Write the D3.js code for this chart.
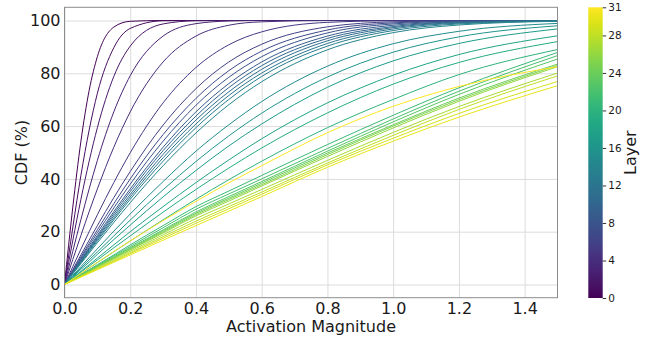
<!DOCTYPE html>
<html><head><meta charset="utf-8">
<script src="https://cdn.jsdelivr.net/npm/d3@7"></script>
<style>body{margin:0;background:#fff;} svg{display:block;font-family:"DejaVu Sans",sans-serif;}</style>
</head><body><svg id="c" width="648" height="339"></svg>
<script>
// ---- data ----
const xGrid = [0, 0.025, 0.05, 0.075, 0.1, 0.15, 0.2, 0.3, 0.4, 0.5, 0.6, 0.8, 1.0, 1.2, 1.5];
const layers = [0,1,2,3,4,5,6,7,8,9,10,11,12,13,14,15,16,17,18,19,20,21,22,23,24,25,26,27,28,29,30,31];
const xTicks = [0.0, 0.2, 0.4, 0.6, 0.8, 1.0, 1.2, 1.4];
const yTicks = [0, 20, 40, 60, 80, 100];
const cbTicks = [0, 4, 8, 12, 16, 20, 24, 28, 31];

const cdf_L0  = [0, 29.0, 54.3, 73.5, 86.3, 97.5, 99.7, 100, 100, 100, 100, 100, 100, 100, 100];
const cdf_L1  = [0, 21.4, 41.4, 58.5, 72.4, 89.7, 97.0, 99.9, 100, 100, 100, 100, 100, 100, 100];
const cdf_L2  = [0, 16.5, 32.3, 46.7, 59.4, 78.8, 90.3, 98.7, 99.9, 100, 100, 100, 100, 100, 100];
const cdf_L3  = [0, 12.5, 24.6, 36.2, 47.0, 65.4, 79.1, 94.1, 98.8, 99.8, 100, 100, 100, 100, 100];
const cdf_L4  = [0, 9.4, 18.6, 27.6, 36.2, 52.0, 65.4, 84.3, 94.1, 98.2, 99.5, 100, 100, 100, 100];
const cdf_L5  = [0, 6.7, 13.4, 20.0, 26.4, 38.6, 49.9, 68.8, 82.2, 90.8, 95.7, 99.3, 99.9, 100, 100];
const cdf_L6  = [0, 5.6, 11.2, 16.8, 22.3, 32.9, 42.8, 60.4, 74.2, 84.3, 91.0, 97.6, 99.5, 99.9, 100];
const cdf_L7  = [0, 5.2, 10.4, 15.6, 20.7, 30.6, 40.0, 56.8, 70.5, 81.0, 88.4, 96.4, 99.1, 99.8, 100];
const cdf_L8  = [0, 4.9, 9.9, 14.8, 19.6, 29.0, 38.0, 54.3, 67.9, 78.5, 86.3, 95.3, 98.7, 99.7, 100];
const cdf_L9  = [0, 4.7, 9.4, 14.0, 18.6, 27.6, 36.2, 52.0, 65.4, 76.1, 84.3, 94.1, 98.2, 99.5, 100];
const cdf_L10 = [0, 4.5, 9.1, 13.6, 18.0, 26.8, 35.2, 50.7, 63.8, 74.6, 82.9, 93.2, 97.7, 99.4, 99.9];
const cdf_L11 = [0, 4.4, 8.8, 13.2, 17.5, 26.0, 34.1, 49.3, 62.3, 73.0, 81.5, 92.3, 97.3, 99.2, 99.9];
const cdf_L12 = [0, 4.3, 8.5, 12.8, 17.0, 25.2, 33.2, 48.0, 60.8, 71.6, 80.1, 91.3, 96.8, 99.0, 99.8];
const cdf_L13 = [0, 4.1, 8.3, 12.4, 16.5, 24.5, 32.3, 46.7, 59.4, 70.1, 78.8, 90.3, 96.2, 98.7, 99.8];
const cdf_L14 = [0, 4.0, 7.9, 11.9, 15.8, 23.5, 31.0, 45.0, 57.4, 68.1, 76.8, 88.9, 95.4, 98.3, 99.7];
const cdf_L15 = [0, 3.4, 6.8, 10.2, 13.5, 20.2, 26.7, 39.0, 50.5, 60.5, 69.3, 82.7, 91.2, 95.9, 98.9];
const cdf_L16 = [0, 3.1, 6.2, 9.3, 12.3, 18.4, 24.4, 35.9, 46.6, 56.3, 64.9, 78.6, 88.0, 93.8, 98.0];
const cdf_L17 = [0, 2.8, 5.7, 8.5, 11.4, 17.0, 22.5, 33.2, 43.2, 52.5, 60.8, 74.7, 84.7, 91.3, 96.8];
const cdf_L18 = [0, 2.5, 5.0, 7.5, 10.0, 15.0, 20.0, 29.5, 38.6, 47.2, 55.2, 68.8, 79.3, 87.1, 94.2];
const cdf_L19 = [0, 2.3, 4.7, 7.0, 9.3, 13.9, 18.4, 27.4, 36.0, 44.1, 51.7, 65.0, 75.9, 84.1, 92.0];
const cdf_L20 = [0, 2.1, 4.1, 6.2, 8.3, 12.4, 16.5, 24.5, 32.3, 39.7, 46.7, 59.4, 70.1, 79.5, 89.0];
const cdf_L21 = [0, 1.9, 3.8, 5.6, 7.5, 11.2, 15.0, 22.3, 29.5, 35.4, 41.3, 53.0, 64.1, 74.5, 87.9];
const cdf_L22 = [0, 1.8, 3.6, 5.4, 7.2, 10.8, 14.4, 21.5, 28.5, 34.3, 40.0, 51.5, 62.7, 73.2, 86.7];
const cdf_L23 = [0, 1.7, 3.5, 5.2, 7.0, 10.4, 13.9, 20.7, 27.5, 33.3, 39.0, 50.5, 61.6, 72.0, 85.4];
const cdf_L24 = [0, 1.7, 3.4, 5.1, 6.8, 10.2, 13.6, 20.3, 27.0, 32.7, 38.4, 49.8, 60.5, 70.6, 83.5];
const cdf_L25 = [0, 1.7, 3.4, 5.0, 6.7, 10.0, 13.3, 19.9, 26.5, 32.2, 37.8, 49.2, 60.0, 70.0, 83.0];
const cdf_L26 = [0, 1.6, 3.3, 4.9, 6.6, 9.8, 13.1, 19.5, 26.0, 31.6, 37.3, 48.5, 59.3, 69.4, 82.5];
const cdf_L27 = [0, 1.6, 3.2, 4.7, 6.3, 9.4, 12.6, 18.8, 25.0, 30.5, 36.0, 47.0, 57.6, 67.4, 80.1];
const cdf_L28 = [0, 1.5, 3.0, 4.5, 6.0, 9.0, 12.1, 18.1, 24.0, 29.5, 35.0, 46.0, 56.5, 66.3, 79.0];
const cdf_L29 = [0, 1.5, 2.9, 4.4, 5.8, 8.7, 11.7, 17.5, 23.2, 28.7, 34.2, 45.3, 55.4, 64.8, 76.9];
const cdf_L30 = [0, 1.4, 2.8, 4.2, 5.6, 8.4, 11.2, 16.8, 22.3, 27.8, 33.3, 44.4, 54.3, 63.4, 75.3];
const cdf_L31 = [0, 2.1, 4.2, 6.3, 8.4, 12.5, 16.5, 24.2, 31.5, 38.5, 45.0, 57.5, 67.5, 75.0, 82.5];

const series = [cdf_L0,cdf_L1,cdf_L2,cdf_L3,cdf_L4,cdf_L5,cdf_L6,cdf_L7,cdf_L8,cdf_L9,cdf_L10,
  cdf_L11,cdf_L12,cdf_L13,cdf_L14,cdf_L15,cdf_L16,cdf_L17,cdf_L18,cdf_L19,cdf_L20,
  cdf_L21,cdf_L22,cdf_L23,cdf_L24,cdf_L25,cdf_L26,cdf_L27,cdf_L28,cdf_L29,cdf_L30,cdf_L31];

// ---- layout ----
const L = 64.5, R = 557.5, T = 7.3, B = 297.7;
const x = d3.scaleLinear().domain([0, 1.5]).range([L, R]);
const y = d3.scaleLinear().domain([-5, 105]).range([B, T]);
const color = v => d3.interpolateViridis(v / 31);

const svg = d3.select('#c');

// grid via axes
svg.append('g').attr('transform', `translate(0,${B})`)
  .call(d3.axisBottom(x).tickValues(xTicks).tickSize(-(B - T)).tickFormat(''))
  .call(g => { g.select('.domain').remove(); g.selectAll('line').attr('stroke', '#dcdcdc').attr('stroke-width', 1); });
svg.append('g').attr('transform', `translate(${L},0)`)
  .call(d3.axisLeft(y).tickValues(yTicks).tickSize(-(R - L)).tickFormat(''))
  .call(g => { g.select('.domain').remove(); g.selectAll('line').attr('stroke', '#dcdcdc').attr('stroke-width', 1); });

// lines
const line = d3.line().x((d, i) => x(xGrid[i])).y(d => y(d)).curve(d3.curveMonotoneX);
svg.append('g').selectAll('path').data(layers).join('path')
  .attr('d', l => line(series[l]))
  .attr('fill', 'none')
  .attr('stroke', l => color(l))
  .attr('stroke-width', 1);

// frame
svg.append('rect').attr('x', L).attr('y', T).attr('width', R - L).attr('height', B - T)
  .attr('fill', 'none').attr('stroke', '#8c8c8c').attr('stroke-width', 1);

// tick labels
svg.append('g').attr('transform', `translate(0,${B})`)
  .call(d3.axisBottom(x).tickValues(xTicks).tickSize(0).tickPadding(5).tickFormat(d3.format('.1f')))
  .call(g => { g.select('.domain').remove(); g.selectAll('text').attr('font-size', 16).attr('fill', '#1a1a1a').attr('font-family', '"DejaVu Sans",sans-serif'); });
svg.append('g').attr('transform', `translate(${L},0)`)
  .call(d3.axisLeft(y).tickValues(yTicks).tickSize(0).tickPadding(4).tickFormat(d3.format('d')))
  .call(g => { g.select('.domain').remove(); g.selectAll('text').attr('font-size', 16).attr('fill', '#1a1a1a').attr('font-family', '"DejaVu Sans",sans-serif'); });

// axis labels
svg.append('text').attr('x', (L + R) / 2).attr('y', 331.5).attr('text-anchor', 'middle')
  .attr('font-size', 16).attr('fill', '#1a1a1a').text('Activation Magnitude');
svg.append('text').attr('transform', `translate(27,${(T + B) / 2}) rotate(-90)`).attr('text-anchor', 'middle')
  .attr('font-size', 16).attr('fill', '#1a1a1a').text('CDF (%)');

// colorbar
const cbX = 588.3, cbW = 14.4, cbT = 7.3, cbB = 298;
const cb = d3.scaleLinear().domain([0, 31]).range([cbB, cbT]);
const grad = svg.append('defs').append('linearGradient').attr('id', 'vir')
  .attr('x1', 0).attr('y1', 1).attr('x2', 0).attr('y2', 0);
grad.selectAll('stop').data(d3.range(0, 1.0001, 0.02)).join('stop')
  .attr('offset', d => d).attr('stop-color', d => d3.interpolateViridis(d));
svg.append('rect').attr('x', cbX).attr('y', cbT).attr('width', cbW).attr('height', cbB - cbT)
  .attr('fill', 'url(#vir)');
svg.append('g').attr('transform', `translate(${cbX + cbW},0)`)
  .call(d3.axisRight(cb).tickValues(cbTicks).tickSize(3.5).tickPadding(2).tickFormat(d3.format('d')))
  .call(g => { g.select('.domain').remove(); g.selectAll('line').attr('stroke', '#333');
    g.selectAll('text').attr('font-size', 10.5).attr('fill', '#1a1a1a').attr('font-family', '"DejaVu Sans",sans-serif'); });
svg.append('text').attr('transform', `translate(636,${(cbT + cbB) / 2}) rotate(-90)`).attr('text-anchor', 'middle')
  .attr('font-size', 16).attr('fill', '#1a1a1a').text('Layer');
</script></body></html>
